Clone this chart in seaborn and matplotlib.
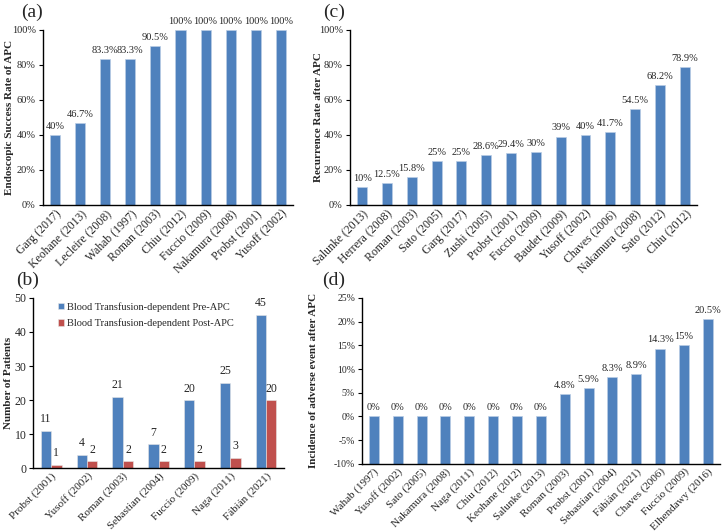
import numpy as np
import pandas as pd
import matplotlib
matplotlib.use("Agg")
import matplotlib.pyplot as plt
from matplotlib.ticker import PercentFormatter, MultipleLocator, FixedLocator
import seaborn as sns

# datos panel (a)
estudios_a = ["Garg (2017)", "Keohane (2013)", "Lecleire (2008)", "Wahab (1997)", "Roman (2003)",
              "Chiu (2012)", "Fuccio (2009)", "Nakamura (2008)", "Probst (2001)", "Yusoff (2002)"]
exito_a = [40, 46.7, 83.3, 83.3, 90.5, 100, 100, 100, 100, 100]

# datos panel (c)
estudios_c = ["Salunke (2013)", "Herrera (2008)", "Roman (2003)", "Sato (2005)", "Garg (2017)",
              "Zushi (2005)", "Probst (2001)", "Fuccio (2009)", "Baudet (2009)", "Yusoff (2002)",
              "Chaves (2006)", "Nakamura (2008)", "Sato (2012)", "Chiu (2012)"]
recurrencia_c = [10, 12.5, 15.8, 25, 25, 28.6, 29.4, 30, 39, 40, 41.7, 54.5, 68.2, 78.9]

# datos panel (b)
estudios_b = ["Probst (2001)", "Yusoff (2002)", "Roman (2003)", "Sebastian (2004)",
              "Fuccio (2009)", "Naga (2011)", "Fábián (2021)"]
pre_apc = [11, 4, 21, 7, 20, 25, 45]
post_apc = [1, 2, 2, 2, 2, 3, 20]

# datos panel (d)
estudios_d = ["Wahab (1997)", "Yusoff (2002)", "Sato (2005)", "Nakamura (2008)", "Naga (2011)",
              "Chiu (2012)", "Keohane (2012)", "Salunke (2013)", "Roman (2003)", "Probst (2001)",
              "Sebastian (2004)", "Fábián (2021)", "Chaves (2006)", "Fuccio (2009)", "Elhendawy (2016)"]
adversos_d = [0, 0, 0, 0, 0, 0, 0, 0, 4.8, 5.9, 8.3, 8.9, 14.3, 15, 20.5]

AZUL = "#4F81BD"
ROJO = "#C0504D"
W, H = 724, 532

sns.set_style("white")
plt.rcParams['font.family'] = ['Liberation Serif', 'DejaVu Serif']
plt.rcParams['axes.unicode_minus'] = False

fig = plt.figure(figsize=(7.24, 5.32), dpi=100)
ax_a = fig.add_axes([0.059, 0.615, 0.346, 0.329])
ax_c = fig.add_axes([0.483, 0.615, 0.480, 0.329])
ax_b = fig.add_axes([0.046, 0.120, 0.346, 0.320])
ax_d = fig.add_axes([0.500, 0.128, 0.494, 0.312])


def estilo(ax, n, ylabel, xlab_px, fs_x=8.5, fs_y=7.5):
    ax.set_xlim(-0.5, n - 0.5)
    for s in ["top", "right"]:
        ax.spines[s].set_visible(False)
    for s in ["left", "bottom"]:
        ax.spines[s].set_color("black")
        ax.spines[s].set_linewidth(1.0)
    ax.xaxis.set_minor_locator(FixedLocator(np.arange(-0.5, n, 1)))
    ax.tick_params(axis="x", which="major", length=0, labelsize=fs_x, pad=2)
    ax.tick_params(axis="x", which="minor", direction="in", length=3, width=0.8, color="black")
    ax.tick_params(axis="y", direction="out", length=3, width=0.8, labelsize=fs_y, color="black",
                   left=True, pad=2)
    for lbl in ax.get_xticklabels():
        lbl.set_rotation(45)
        lbl.set_ha("right")
        lbl.set_rotation_mode("anchor")
    ax.set_xlabel("")
    ax.set_ylabel(ylabel, fontsize=8, fontweight="bold")
    bb = ax.get_position()
    ax.yaxis.set_label_coords(xlab_px / W, (bb.y0 + bb.y1) / 2, transform=fig.transFigure)


def etiqueta_pct(v):
    return f"{v:g}%"


# (a) exito endoscopico
df_a = pd.DataFrame({"estudio": estudios_a, "valor": exito_a})
sns.barplot(data=df_a, x="estudio", y="valor", color=AZUL, width=0.4, saturation=1,
            edgecolor="#B9CDE5", linewidth=0.5, ax=ax_a)
ax_a.set_ylim(0, 100)
ax_a.yaxis.set_major_locator(MultipleLocator(20))
ax_a.yaxis.set_major_formatter(PercentFormatter(100, decimals=0))
ax_a.bar_label(ax_a.containers[0], labels=[etiqueta_pct(v) for v in exito_a], fontsize=7.5, padding=3)
estilo(ax_a, len(estudios_a), "Endoscopic Success Rate of APC", 14)

# (c) recurrencia
df_c = pd.DataFrame({"estudio": estudios_c, "valor": recurrencia_c})
sns.barplot(data=df_c, x="estudio", y="valor", color=AZUL, width=0.4, saturation=1,
            edgecolor="#B9CDE5", linewidth=0.5, ax=ax_c)
ax_c.set_ylim(0, 100)
ax_c.yaxis.set_major_locator(MultipleLocator(20))
ax_c.yaxis.set_major_formatter(PercentFormatter(100, decimals=0))
ax_c.bar_label(ax_c.containers[0], labels=[etiqueta_pct(v) for v in recurrencia_c], fontsize=7.5, padding=3)
estilo(ax_c, len(estudios_c), "Recurrence Rate after APC", 323)

# (b) transfusiones
df_b = pd.DataFrame({
    "estudio": estudios_b * 2,
    "valor": pre_apc + post_apc,
    "grupo": ["Blood Transfusion-dependent Pre-APC"] * len(estudios_b)
             + ["Blood Transfusion-dependent Post-APC"] * len(estudios_b),
})
sns.barplot(data=df_b, x="estudio", y="valor", hue="grupo", palette=[AZUL, ROJO], width=0.58,
            saturation=1, edgecolor="#E6E6E6", linewidth=0.4, ax=ax_b)
ax_b.set_ylim(0, 50)
ax_b.yaxis.set_major_locator(MultipleLocator(10))
for cont, vals in zip(ax_b.containers, [pre_apc, post_apc]):
    ax_b.bar_label(cont, labels=[str(v) for v in vals], fontsize=8.5, padding=4)
ax_b.legend(loc="upper left", bbox_to_anchor=(0.08, 1.0), frameon=False, fontsize=7.5,
            handlelength=0.6, handleheight=0.6, handletextpad=0.3, labelspacing=0.65,
            borderaxespad=0.0)
estilo(ax_b, len(estudios_b), "Number of Patients", 13, fs_x=8, fs_y=8.5)

# (d) eventos adversos, barras desde el minimo del eje (estilo Excel)
df_d = pd.DataFrame({"estudio": estudios_d, "valor": adversos_d})
sns.barplot(data=df_d, x="estudio", y="valor", color=AZUL, width=0.42, saturation=1,
            edgecolor="#B9CDE5", linewidth=0.5, ax=ax_d)
ymin_d = -10
for p in ax_d.containers[0]:
    p.set_height(p.get_height() - ymin_d)
    p.set_y(ymin_d)
ax_d.set_ylim(ymin_d, 25)
ax_d.yaxis.set_major_locator(MultipleLocator(5))
ax_d.yaxis.set_major_formatter(PercentFormatter(100, decimals=0))
ax_d.bar_label(ax_d.containers[0], labels=[etiqueta_pct(v) for v in adversos_d], fontsize=7.5, padding=3)
estilo(ax_d, len(estudios_d), "Incidence of adverse event after APC", 318, fs_x=8, fs_y=7)

# etiquetas de panel
for x, y, t in [(32, 12, "(a)"), (334, 12, "(c)"), (28, 280, "(b)"), (334, 280, "(d)")]:
    fig.text(x / W, 1 - y / H, t, fontsize=14, ha="center", va="center")

fig.savefig("out.png", dpi=100)
